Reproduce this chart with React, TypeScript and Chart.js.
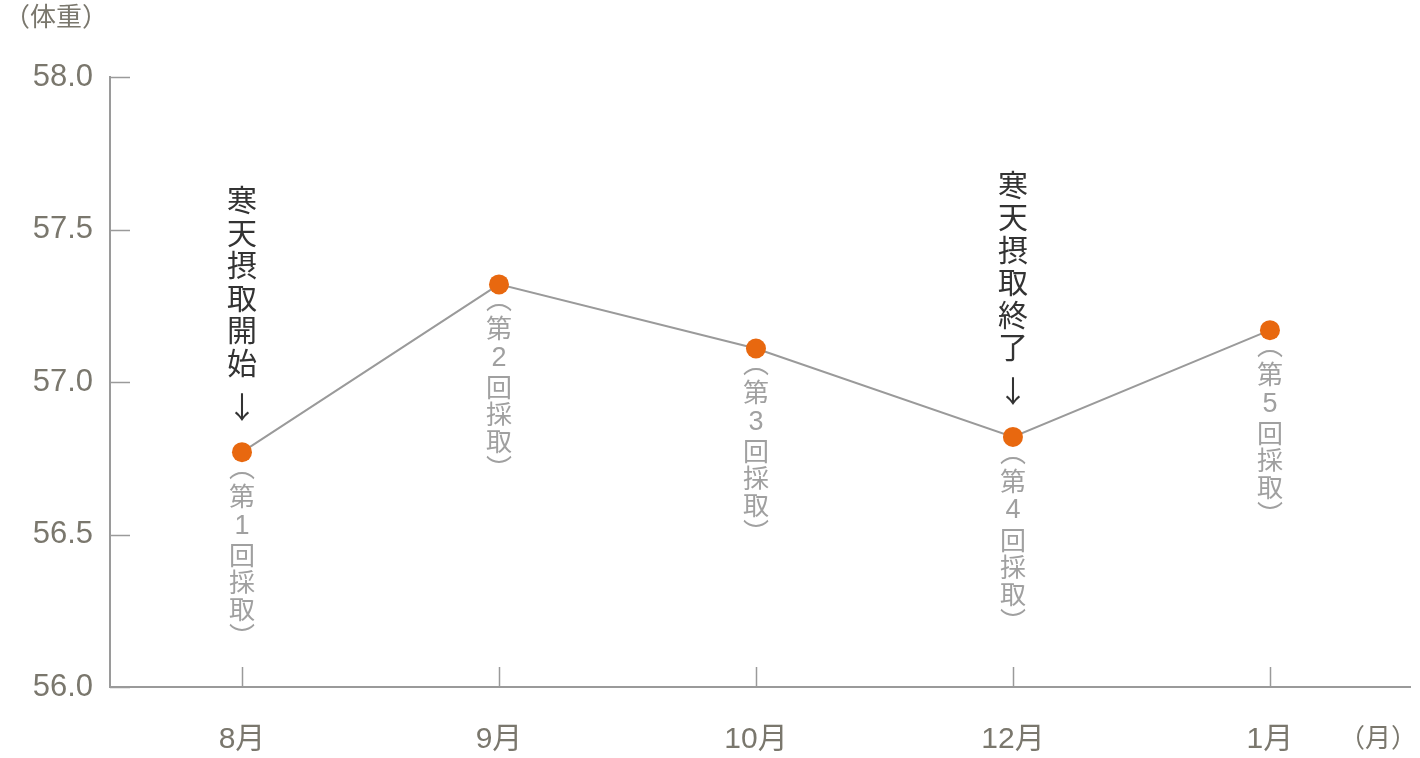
import { useEffect, useRef } from 'react';
import { Chart, registerables } from 'chart.js';

Chart.register(...registerables);

// data
const months = ['8月', '9月', '10月', '12月', '1月'];
const weights = [56.77, 57.32, 57.11, 56.82, 57.17];
const samplingNo = ['1', '2', '3', '4', '5'];
const eventLabels = ['寒天摂取開始', '', '', '寒天摂取終了', ''];
const yTicks = [56.0, 56.5, 57.0, 57.5, 58.0];

const LATIN = '"Liberation Sans", "Noto Sans CJK JP", sans-serif';
const CJK = '"Noto Sans CJK JP", sans-serif';
const AXIS_COLOR = '#9a9a9a';
const LABEL_COLOR = '#7a776d';

// short tick marks drawn inside the plot, plus the vertical notes
const decorPlugin = {
  id: 'decor',
  afterDraw(chart: any) {
    const ctx = chart.ctx;
    const xs = chart.scales.x;
    const ys = chart.scales.y;
    const area = chart.chartArea;

    ctx.save();
    ctx.strokeStyle = AXIS_COLOR;
    ctx.lineWidth = 1.5;
    ctx.beginPath();
    ys.ticks.forEach((t: any) => {
      const py = Math.round(ys.getPixelForValue(t.value)) + 0.5;
      ctx.moveTo(area.left, py);
      ctx.lineTo(area.left + 20, py);
    });
    xs.ticks.forEach((t: any) => {
      const px = Math.round(xs.getPixelForValue(t.value)) + 0.5;
      ctx.moveTo(px, area.bottom);
      ctx.lineTo(px, area.bottom - 20);
    });
    ctx.stroke();

    // unit captions
    ctx.fillStyle = LABEL_COLOR;
    ctx.font = `26px ${CJK}`;
    ctx.textAlign = 'left';
    ctx.textBaseline = 'middle';
    ctx.fillText('（体重）', 4, 16);
    ctx.fillText('（月）', 1339, 737);

    const meta = chart.getDatasetMeta(0);
    meta.data.forEach((pt: any, i: number) => {
      const px = pt.x;
      const py = pt.y;
      ctx.textAlign = 'center';
      ctx.textBaseline = 'middle';

      // （第n回採取） below the point
      ctx.fillStyle = '#a0a0a0';
      const parts = ['︵', '第', samplingNo[i], '回', '採', '取', '︶'];
      const offs = [15, 44, 74, 103, 130, 157, 184];
      parts.forEach((ch, k) => {
        ctx.font = /\d/.test(ch) ? `27px ${LATIN}` : `26px ${CJK}`;
        ctx.fillText(ch, px, py + offs[k]);
      });

      // event note above the point
      const note = eventLabels[i];
      if (note) {
        ctx.fillStyle = '#333';
        ctx.font = `30px ${CJK}`;
        const chars = note.split('');
        chars.forEach((ch, k) => {
          ctx.fillText(ch, px, py - 90 - (chars.length - 1 - k) * 32.5);
        });
        ctx.fillText('↓', px, py - 46);
      }
    });
    ctx.restore();
  },
};

const App = () => {
  const chartRef = useRef<HTMLCanvasElement>(null);
  const chartInstance = useRef<Chart | null>(null);

  useEffect(() => {
    document.body.style.margin = '0';
    if (!chartRef.current) return;
    if (chartInstance.current) chartInstance.current.destroy();
    const ctx = chartRef.current.getContext('2d');
    if (!ctx) return;

    chartInstance.current = new Chart(ctx, {
      type: 'line',
      data: {
        datasets: [{
          data: weights.map((w, i) => ({ x: i, y: w })),
          borderColor: '#9a9a9a',
          borderWidth: 2,
          backgroundColor: '#e8680f',
          pointBackgroundColor: '#e8680f',
          pointBorderWidth: 0,
          pointRadius: 10,
          tension: 0,
          fill: false,
        }],
      },
      options: {
        responsive: true,
        maintainAspectRatio: false,
        animation: false,
        layout: { padding: { top: 77, right: 0, left: 0, bottom: 0 } },
        plugins: {
          legend: { display: false },
          tooltip: { enabled: false },
        },
        scales: {
          x: {
            type: 'linear',
            min: -0.5136,
            max: 4.545,
            grid: { display: false },
            border: { display: true, color: AXIS_COLOR, width: 2 },
            afterFit: (s: any) => { s.height = 71; },
            ticks: {
              stepSize: 1,
              includeBounds: false,
              padding: 27,
              color: LABEL_COLOR,
              font: { family: LATIN, size: 30 },
              callback: (v: any) => months[v as number] ?? '',
            },
          },
          y: {
            min: yTicks[0],
            max: yTicks[yTicks.length - 1],
            grid: { display: false },
            border: { display: true, color: AXIS_COLOR, width: 2 },
            afterFit: (s: any) => { s.width = 110; },
            ticks: {
              stepSize: 0.5,
              padding: 9,
              color: LABEL_COLOR,
              font: { family: LATIN, size: 31 },
              callback: (v: any) => Number(v).toFixed(1),
            },
          },
        },
      },
      plugins: [decorPlugin],
    });

    return () => {
      if (chartInstance.current) {
        chartInstance.current.destroy();
        chartInstance.current = null;
      }
    };
  }, []);

  return (
    <div style={{ width: 1420, height: 758, position: 'relative', background: '#fff' }}>
      <canvas ref={chartRef} />
    </div>
  );
};

export default App;
